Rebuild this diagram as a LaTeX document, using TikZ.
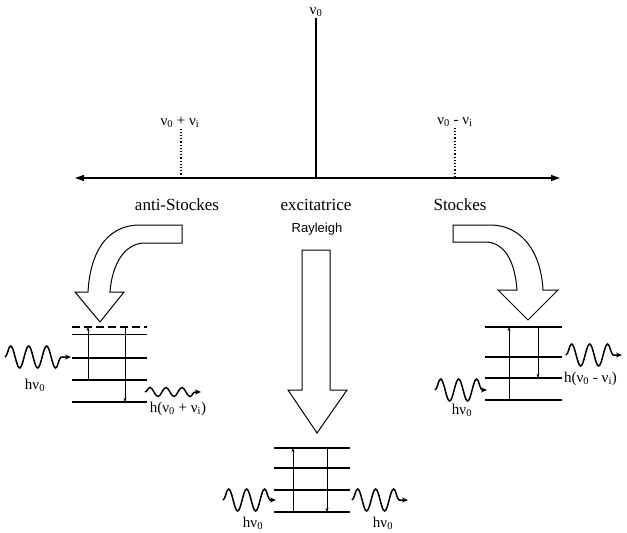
\documentclass[tikz,border=0pt]{standalone}
\usepackage{fontspec}
\setmainfont{Liberation Serif}
\newfontfamily\raysans{Liberation Sans}
\usetikzlibrary{arrows.meta,decorations.pathmorphing}
\newcommand{\nuz}{ν\textsubscript{0}}
\newcommand{\nui}{ν\textsubscript{i}}

\begin{document}
\begin{tikzpicture}[x=1pt,y=-1pt,
  lvl/.style={line width=1.3pt},
  trans/.style={line width=.5pt,-{Stealth[length=4pt,width=3pt]}},
  fat/.style={draw,line width=1pt,fill=white,line join=miter},
  wave/.style={line width=1.5pt,decorate,decoration={snake,amplitude=#1,segment length=18pt,post length=4pt},-{Stealth[length=6pt,width=5pt]}},
  lab/.style={font=\fontsize{17}{20}\selectfont,inner sep=1pt},
  nu/.style={font=\fontsize{15}{17}\selectfont,inner sep=1pt}]
\useasboundingbox (0,0) rectangle (627,533);

% spectre
\coordinate (axl) at (75,178); \coordinate (axr) at (560,178);
\draw[line width=1.2pt,{Triangle[length=9pt,width=6pt]}-{Triangle[length=9pt,width=6pt]}] (axl)--(axr);
\node[nu] (r0) at (316,12){\nuz};
\coordinate (c0) at (316,178);
\draw[line width=1.3pt] (r0.south)--(c0);
\node[nu] (as) at (180,122){\nuz{} + \nui};
\coordinate (cas) at (181,178);
\draw[line width=1.2pt,dotted] (as.south-|cas)--(cas);
\node[nu] (st) at (455,122){\nuz{} - \nui};
\coordinate (cst) at (455,178);
\draw[line width=1.2pt,dotted] (st.south)--(cst);
\node[lab] (tas) at (177,205){anti-Stockes};
\node[lab] (tex) at (316,205){excitatrice};
\node[font=\raysans\fontsize{13}{15}\selectfont] (tra) at (317,229){Rayleigh};
\node[lab] (tst) at (460,205){Stockes};

% grosses fleches
\draw[fat] (182,225)--(140,225) .. controls (105,225) and (90,255) .. (88,292)--(75,292)--(100,322)--(124,292)--(110,292) .. controls (112,265) and (124,243) .. (145,243)--(182,243)--cycle;
\draw[fat] (302,250)--(330,250)--(330,390)--(347,390)--(317,433)--(288,390)--(302,390)--cycle;
\draw[fat] (453,225)--(490,225) .. controls (522,225) and (541,252) .. (543,290)--(558,290)--(528,320)--(498,290)--(517,290) .. controls (515,262) and (505,242) .. (485,242)--(453,242)--cycle;

% anti-Stockes
\draw[lvl,dash pattern=on 8pt off 4pt] (72,327)--(147,327);
\draw[line width=.6pt] (72,334)--(147,334);
\draw[lvl] (72,358)--(147,358);
\draw[lvl] (72,380)--(147,380);
\draw[lvl] (72,402)--(147,402);
\coordinate (au1) at (88,380); \coordinate (au2) at (88,327);
\coordinate (ad1) at (125,327); \coordinate (ad2) at (125,402);
\draw[trans] (au1)--(au2); \draw[trans] (ad1)--(ad2);
\coordinate (aw1) at (5,357); \coordinate (aw2) at (71,357);
\draw[wave=11pt] (aw1)--(aw2);
\coordinate (aw3) at (145,392); \coordinate (aw4) at (201,392);
\draw[wave=4.5pt,decoration={segment length=16pt}] (aw3)--(aw4);
\node[nu] (ah0) at (35,385){h\nuz};
\node[nu] (ah1) at (178,409){h(\nuz{} + \nui)};

% Rayleigh
\draw[lvl] (274,448)--(350,448);
\draw[lvl] (274,468)--(350,468);
\draw[lvl] (274,490)--(350,490);
\draw[lvl] (274,512)--(350,512);
\coordinate (ru1) at (293,512); \coordinate (ru2) at (293,448);
\coordinate (rd1) at (327,448); \coordinate (rd2) at (327,512);
\draw[trans] (ru1)--(ru2); \draw[trans] (rd1)--(rd2);
\coordinate (rw1) at (223,500); \coordinate (rw2) at (276,500);
\coordinate (rw3) at (352,500); \coordinate (rw4) at (408,500);
\draw[wave=11pt] (rw1)--(rw2); \draw[wave=11pt] (rw3)--(rw4);
\node[nu] (rh0) at (253,523){h\nuz};
\node[nu] (rh1) at (383,523){h\nuz};

% Stockes
\draw[lvl] (485,327)--(562,327);
\draw[lvl] (485,357)--(562,357);
\draw[lvl] (485,378)--(562,378);
\draw[lvl] (485,400)--(562,400);
\coordinate (su1) at (509,400); \coordinate (su2) at (509,327);
\coordinate (sd1) at (538,327); \coordinate (sd2) at (538,378);
\draw[trans] (su1)--(su2); \draw[trans] (sd1)--(sd2);
\coordinate (sw1) at (435,390); \coordinate (sw2) at (487,390);
\coordinate (sw3) at (566,355); \coordinate (sw4) at (622,355);
\draw[wave=11pt] (sw1)--(sw2); \draw[wave=11pt] (sw3)--(sw4);
\node[nu] (sh0) at (462,410){h\nuz};
\node[nu,anchor=west] (sh1) at (563,379){h(\nuz{} - \nui)};
\end{tikzpicture}
\end{document}
